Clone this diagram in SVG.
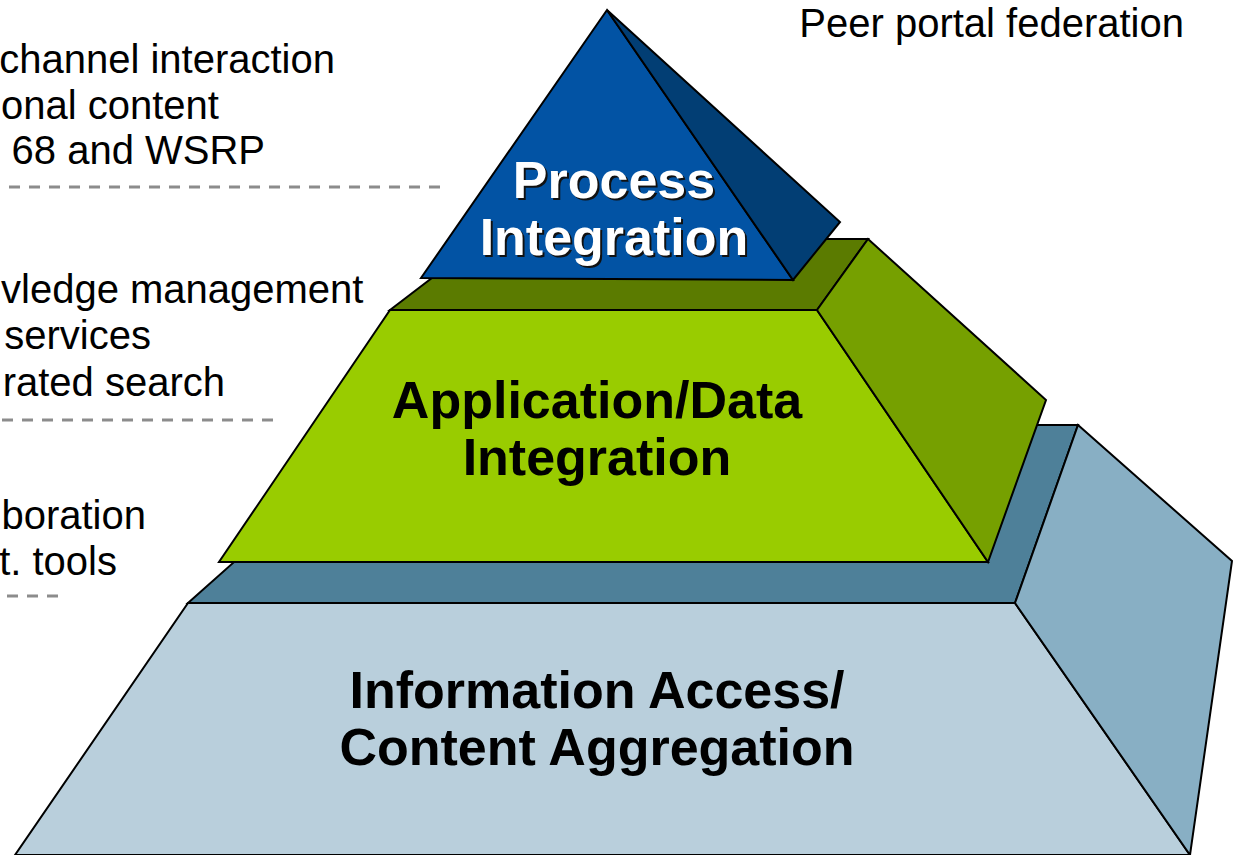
<svg xmlns="http://www.w3.org/2000/svg" width="1233" height="855" viewBox="0 0 1233 855">
<style>
.f{stroke:#000;stroke-width:2;stroke-linejoin:miter}
.lbl{font-family:"Liberation Sans",Arial,sans-serif;font-size:40px;fill:#000}
.ttl{font-family:"Liberation Sans",Arial,sans-serif;font-size:52px;font-weight:bold;text-anchor:middle;fill:#000}
.ttlw{fill:#fff}
.sh{fill:#111}
.dash{stroke:#8c8c8c;stroke-width:3;stroke-dasharray:11 9;fill:none}
</style>
<rect width="1233" height="855" fill="#fff"/>
<g id="tier-base">
<polygon class="f" fill="#4e8099" points="188,603 388,425 1078,425 1015,603"/>
<polygon class="f" fill="#b9cfdc" points="188,603 1015,603 1190,855 15,855"/>
<polygon class="f" fill="#88afc4" points="1015,603 1078,425 1232,561 1190,855"/>
<text class="ttl" x="597" y="708">Information Access/</text>
<text class="ttl" x="597" y="765">Content Aggregation</text>
</g>
<g id="tier-middle">
<polygon class="f" fill="#5b7b00" points="390,310 483,239 868,239 817,310"/>
<polygon class="f" fill="#99cc00" points="390,310 817,310 988,562 219,562"/>
<polygon class="f" fill="#76a000" points="817,310 868,239 1046,400 988,562"/>
<text class="ttl" x="597" y="418">Application/Data</text>
<text class="ttl" x="597" y="475">Integration</text>
</g>
<g id="tier-top">
<polygon class="f" fill="#0253a4" points="607,10 421,278 793,280"/>
<polygon class="f" fill="#023e74" points="607,10 840,222 793,280"/>
<text class="ttl sh" x="616" y="200">Process</text>
<text class="ttl ttlw" x="614" y="198">Process</text>
<text class="ttl sh" x="616" y="257">Integration</text>
<text class="ttl ttlw" x="614" y="255">Integration</text>
</g>
<g id="labels">
<text class="lbl" x="1184" y="37" text-anchor="end">Peer portal federation</text>
<text class="lbl" x="335" y="73" text-anchor="end">channel interaction</text>
<text class="lbl" x="1" y="119">onal content</text>
<text class="lbl" x="265" y="164" text-anchor="end">68 and WSRP</text>
<text class="lbl" x="1" y="303">vledge management</text>
<text class="lbl" x="151" y="349" text-anchor="end">services</text>
<text class="lbl" x="225" y="396" text-anchor="end">rated search</text>
<text class="lbl" x="146" y="529" text-anchor="end">boration</text>
<text class="lbl" x="117" y="575" text-anchor="end">t. tools</text>
</g>
<g id="connectors">
<line class="dash" x1="440" y1="187" x2="0" y2="187"/>
<line class="dash" x1="273" y1="420" x2="0" y2="420"/>
<line class="dash" x1="58" y1="596" x2="0" y2="596"/>
</g>
</svg>
